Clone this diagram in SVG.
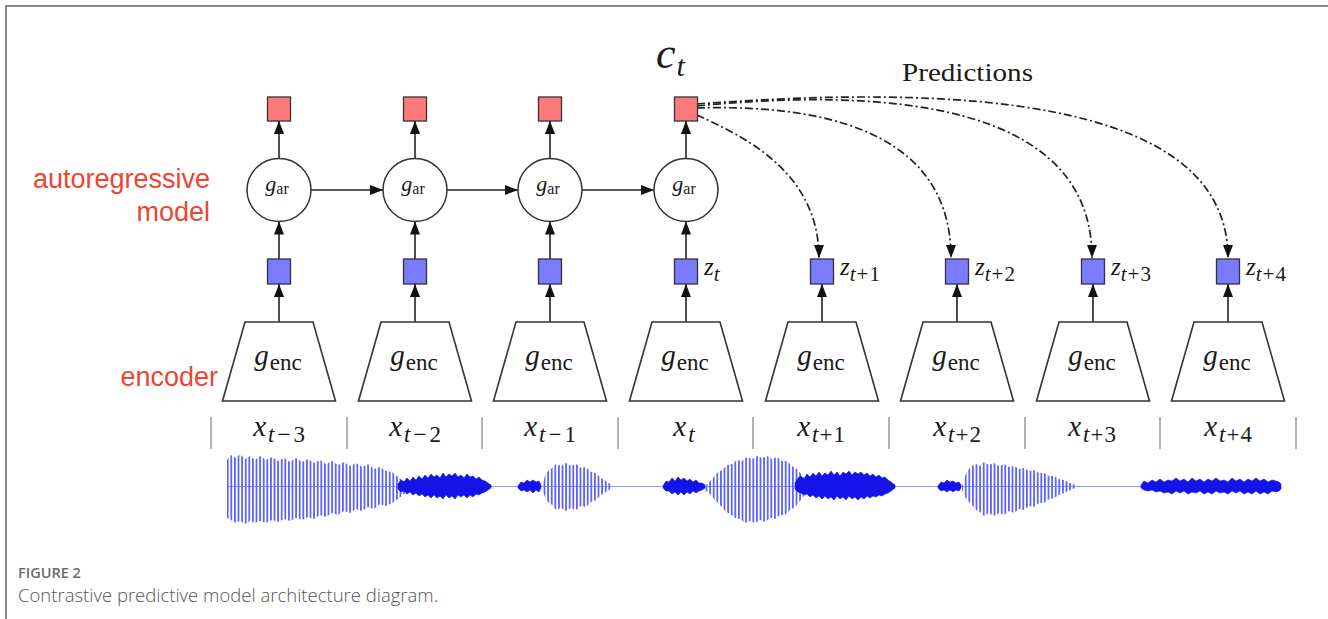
<svg xmlns="http://www.w3.org/2000/svg" width="1328" height="619" viewBox="0 0 1328 619">
<style>
.frame{fill:none;stroke:#8a8a8a;stroke-width:2}
.red{font-family:"Liberation Sans",Arial,sans-serif;font-size:27px;fill:#ee4433}
.m{font-family:"Liberation Serif","Times New Roman",serif;fill:#1a1a1a}
.it{font-style:italic}
.ctx{fill:#ff7b7b;stroke:#333;stroke-width:1.3}
.zsq{fill:#7b7bff;stroke:#333;stroke-width:1.3}
.ar{fill:#fff;stroke:#333;stroke-width:1.5}
.enc{fill:#fff;stroke:#333;stroke-width:1.6;stroke-linejoin:miter}
.arrow{fill:none;stroke:#222;stroke-width:1.6;marker-end:url(#ah)}
.pred{fill:none;stroke:#222;stroke-width:1.7;stroke-dasharray:8 3 2 3;marker-end:url(#ah)}
.tick{stroke:#9a9a9a;stroke-width:1.5}
.light{fill:url(#stripes)}
.dark{fill:#1414e8;stroke:#1414e8;stroke-width:0.6}
.cap1{font-family:"Open Sans","Liberation Sans",sans-serif;font-size:14.5px;font-weight:600;fill:#6b6b6b}
.cap2{font-family:"Open Sans","Liberation Sans",sans-serif;font-size:18.5px;font-weight:300;fill:#555}
</style>
<defs>
<marker id="ah" markerUnits="userSpaceOnUse" markerWidth="14" markerHeight="11" refX="13" refY="5" orient="auto">
<path d="M0,0 L13,5 L0,10 z" fill="#111"/>
</marker>
<pattern id="stripes" patternUnits="userSpaceOnUse" width="3.6" height="20">
<rect x="0" y="0" width="1.8" height="20" fill="#5d63ff"/>
</pattern>
</defs>

<rect width="1328" height="619" fill="#fff"/>
<path class="frame" d="M6,619 V6 H1328"/>

<g id="labels">
<text class="red" x="210" y="188" text-anchor="end">autoregressive</text>
<text class="red" x="210" y="221" text-anchor="end">model</text>
<text class="red" x="218" y="386" text-anchor="end">encoder</text>
</g>

<g id="ct-label">
<text class="m" x="656" y="68"><tspan class="it" font-size="44">c</tspan><tspan class="it" font-size="30" dy="8" dx="1">t</tspan></text>
</g>
<g id="predictions-label">
<text class="m" x="902" y="81" font-size="25" textLength="131" lengthAdjust="spacingAndGlyphs">Predictions</text>
</g>

<g id="connectors">
<line class="arrow" x1="279" y1="322" x2="279" y2="284"/>
<line class="arrow" x1="415" y1="322" x2="415" y2="284"/>
<line class="arrow" x1="550" y1="322" x2="550" y2="284"/>
<line class="arrow" x1="686" y1="322" x2="686" y2="284"/>
<line class="arrow" x1="822" y1="322" x2="822" y2="284"/>
<line class="arrow" x1="957" y1="322" x2="957" y2="284"/>
<line class="arrow" x1="1093" y1="322" x2="1093" y2="284"/>
<line class="arrow" x1="1228" y1="322" x2="1228" y2="284"/>
<line class="arrow" x1="279" y1="259" x2="279" y2="221.5"/>
<line class="arrow" x1="415" y1="259" x2="415" y2="221.5"/>
<line class="arrow" x1="550" y1="259" x2="550" y2="221.5"/>
<line class="arrow" x1="686" y1="259" x2="686" y2="221.5"/>
<line class="arrow" x1="279" y1="158.5" x2="279" y2="121"/>
<line class="arrow" x1="415" y1="158.5" x2="415" y2="121"/>
<line class="arrow" x1="550" y1="158.5" x2="550" y2="121"/>
<line class="arrow" x1="686" y1="158.5" x2="686" y2="121"/>
<line class="arrow" x1="311" y1="190" x2="383" y2="190"/>
<line class="arrow" x1="447" y1="190" x2="518" y2="190"/>
<line class="arrow" x1="582" y1="190" x2="654" y2="190"/>
<path class="pred" d="M697,115 C740,135 819,170 819,258"/>
<path class="pred" d="M697,108 C800,105 951,120 951,258"/>
<path class="pred" d="M697,106 C880,88 1092,100 1092,258"/>
<path class="pred" d="M697,104 C950,85 1228,95 1228,258"/>
</g>

<g id="context-1"><rect class="ctx" x="267.5" y="97" width="23" height="24"/></g>
<g id="context-2"><rect class="ctx" x="403.5" y="97" width="23" height="24"/></g>
<g id="context-3"><rect class="ctx" x="538.5" y="97" width="23" height="24"/></g>
<g id="context-4"><rect class="ctx" x="674.5" y="97" width="23" height="24"/></g>

<g id="gar-1"><ellipse class="ar" cx="279" cy="190" rx="32" ry="31.5"/><text class="m" x="277" y="191" text-anchor="middle"><tspan class="it" font-size="22">g</tspan><tspan font-size="16" dy="3">ar</tspan></text></g>
<g id="gar-2"><ellipse class="ar" cx="415" cy="190" rx="32" ry="31.5"/><text class="m" x="413" y="191" text-anchor="middle"><tspan class="it" font-size="22">g</tspan><tspan font-size="16" dy="3">ar</tspan></text></g>
<g id="gar-3"><ellipse class="ar" cx="550" cy="190" rx="32" ry="31.5"/><text class="m" x="548" y="191" text-anchor="middle"><tspan class="it" font-size="22">g</tspan><tspan font-size="16" dy="3">ar</tspan></text></g>
<g id="gar-4"><ellipse class="ar" cx="686" cy="190" rx="32" ry="31.5"/><text class="m" x="684" y="191" text-anchor="middle"><tspan class="it" font-size="22">g</tspan><tspan font-size="16" dy="3">ar</tspan></text></g>

<g id="z-1"><rect class="zsq" x="267.5" y="259" width="23" height="25"/></g>
<g id="z-2"><rect class="zsq" x="403.5" y="259" width="23" height="25"/></g>
<g id="z-3"><rect class="zsq" x="538.5" y="259" width="23" height="25"/></g>
<g id="z-4"><rect class="zsq" x="674.5" y="259" width="23" height="25"/><text class="m" x="704" y="275"><tspan class="it" font-size="25">z</tspan><tspan class="it" font-size="21" dy="6">t</tspan></text></g>
<g id="z-5"><rect class="zsq" x="810.5" y="259" width="23" height="25"/><text class="m" x="840" y="275"><tspan class="it" font-size="25">z</tspan><tspan class="it" font-size="21" dy="6">t</tspan><tspan font-size="21" dx="1">+</tspan><tspan font-size="21" dx="1">1</tspan></text></g>
<g id="z-6"><rect class="zsq" x="945.5" y="259" width="23" height="25"/><text class="m" x="975" y="275"><tspan class="it" font-size="25">z</tspan><tspan class="it" font-size="21" dy="6">t</tspan><tspan font-size="21" dx="1">+</tspan><tspan font-size="21" dx="1">2</tspan></text></g>
<g id="z-7"><rect class="zsq" x="1081.5" y="259" width="23" height="25"/><text class="m" x="1111" y="275"><tspan class="it" font-size="25">z</tspan><tspan class="it" font-size="21" dy="6">t</tspan><tspan font-size="21" dx="1">+</tspan><tspan font-size="21" dx="1">3</tspan></text></g>
<g id="z-8"><rect class="zsq" x="1216.5" y="259" width="23" height="25"/><text class="m" x="1246" y="275"><tspan class="it" font-size="25">z</tspan><tspan class="it" font-size="21" dy="6">t</tspan><tspan font-size="21" dx="1">+</tspan><tspan font-size="21" dx="1">4</tspan></text></g>

<g id="enc-1"><polygon class="enc" points="245,322 313,322 335.5,401 222.5,401"/><text class="m" x="278" y="365" text-anchor="middle"><tspan class="it" font-size="29">g</tspan><tspan font-size="23" dy="5" dx="1">enc</tspan></text></g>
<g id="enc-2"><polygon class="enc" points="381,322 449,322 471.5,401 358.5,401"/><text class="m" x="414" y="365" text-anchor="middle"><tspan class="it" font-size="29">g</tspan><tspan font-size="23" dy="5" dx="1">enc</tspan></text></g>
<g id="enc-3"><polygon class="enc" points="516,322 584,322 606.5,401 493.5,401"/><text class="m" x="549" y="365" text-anchor="middle"><tspan class="it" font-size="29">g</tspan><tspan font-size="23" dy="5" dx="1">enc</tspan></text></g>
<g id="enc-4"><polygon class="enc" points="652,322 720,322 742.5,401 629.5,401"/><text class="m" x="685" y="365" text-anchor="middle"><tspan class="it" font-size="29">g</tspan><tspan font-size="23" dy="5" dx="1">enc</tspan></text></g>
<g id="enc-5"><polygon class="enc" points="788,322 856,322 878.5,401 765.5,401"/><text class="m" x="821" y="365" text-anchor="middle"><tspan class="it" font-size="29">g</tspan><tspan font-size="23" dy="5" dx="1">enc</tspan></text></g>
<g id="enc-6"><polygon class="enc" points="923,322 991,322 1013.5,401 900.5,401"/><text class="m" x="956" y="365" text-anchor="middle"><tspan class="it" font-size="29">g</tspan><tspan font-size="23" dy="5" dx="1">enc</tspan></text></g>
<g id="enc-7"><polygon class="enc" points="1059,322 1127,322 1149.5,401 1036.5,401"/><text class="m" x="1092" y="365" text-anchor="middle"><tspan class="it" font-size="29">g</tspan><tspan font-size="23" dy="5" dx="1">enc</tspan></text></g>
<g id="enc-8"><polygon class="enc" points="1194,322 1262,322 1284.5,401 1171.5,401"/><text class="m" x="1227" y="365" text-anchor="middle"><tspan class="it" font-size="29">g</tspan><tspan font-size="23" dy="5" dx="1">enc</tspan></text></g>

<g id="segments">
<line class="tick" x1="211" y1="417" x2="211" y2="449"/>
<line class="tick" x1="347" y1="417" x2="347" y2="449"/>
<line class="tick" x1="482" y1="417" x2="482" y2="449"/>
<line class="tick" x1="618" y1="417" x2="618" y2="449"/>
<line class="tick" x1="753" y1="417" x2="753" y2="449"/>
<line class="tick" x1="889" y1="417" x2="889" y2="449"/>
<line class="tick" x1="1025" y1="417" x2="1025" y2="449"/>
<line class="tick" x1="1160" y1="417" x2="1160" y2="449"/>
<line class="tick" x1="1296" y1="417" x2="1296" y2="449"/>
<text class="m" x="279" y="436" text-anchor="middle"><tspan class="it" font-size="29">x</tspan><tspan class="it" font-size="23" dy="6" dx="2">t</tspan><tspan font-size="23" dx="3">−</tspan><tspan font-size="23" dx="3">3</tspan></text>
<text class="m" x="415" y="436" text-anchor="middle"><tspan class="it" font-size="29">x</tspan><tspan class="it" font-size="23" dy="6" dx="2">t</tspan><tspan font-size="23" dx="3">−</tspan><tspan font-size="23" dx="3">2</tspan></text>
<text class="m" x="550" y="436" text-anchor="middle"><tspan class="it" font-size="29">x</tspan><tspan class="it" font-size="23" dy="6" dx="2">t</tspan><tspan font-size="23" dx="3">−</tspan><tspan font-size="23" dx="3">1</tspan></text>
<text class="m" x="684" y="436" text-anchor="middle"><tspan class="it" font-size="29">x</tspan><tspan class="it" font-size="23" dy="6" dx="2">t</tspan></text>
<text class="m" x="821" y="436" text-anchor="middle"><tspan class="it" font-size="29">x</tspan><tspan class="it" font-size="23" dy="6" dx="2">t</tspan><tspan font-size="23" dx="1">+</tspan><tspan font-size="23" dx="1">1</tspan></text>
<text class="m" x="957" y="436" text-anchor="middle"><tspan class="it" font-size="29">x</tspan><tspan class="it" font-size="23" dy="6" dx="2">t</tspan><tspan font-size="23" dx="1">+</tspan><tspan font-size="23" dx="1">2</tspan></text>
<text class="m" x="1092" y="436" text-anchor="middle"><tspan class="it" font-size="29">x</tspan><tspan class="it" font-size="23" dy="6" dx="2">t</tspan><tspan font-size="23" dx="1">+</tspan><tspan font-size="23" dx="1">3</tspan></text>
<text class="m" x="1228" y="436" text-anchor="middle"><tspan class="it" font-size="29">x</tspan><tspan class="it" font-size="23" dy="6" dx="2">t</tspan><tspan font-size="23" dx="1">+</tspan><tspan font-size="23" dx="1">4</tspan></text>
</g>

<g id="waveform">
<line x1="227" y1="486.5" x2="1281" y2="486.5" stroke="#8f95ff" stroke-width="1"/>
<polygon class="light" points="227,460 231,455 236,458 240,454 245,459 250,456 255,460 260,456 266,460 272,457 278,461 284,458 290,462 296,458 302,462 308,459 314,463 320,460 326,464 332,461 338,465 344,462 350,466 356,463 362,467 368,464 374,469 380,467 386,471 392,472 398,477 404,481 409,485 409,489 404,494 398,499 392,503 386,506 380,504 374,509 368,507 362,511 356,509 350,513 344,511 338,515 332,513 326,517 320,515 314,519 308,517 302,520 296,518 290,521 284,519 278,522 272,520 266,523 260,521 255,523 250,521 245,524 240,521 236,523 231,520 227,518"/>
<polygon class="dark" points="398,484 401,480 404,482 407,478 410,481 413,477 416,480 419,476 422,479 425,475 428,478 431,474 434,477 437,475 440,478 443,473 446,477 449,474 452,476 455,473 458,477 461,475 464,478 467,474 470,477 473,476 476,479 479,477 482,480 485,481 488,483 491,485 491,488 488,490 485,492 482,493 479,495 476,494 473,497 470,495 467,498 464,495 461,497 458,495 455,499 452,496 449,498 446,495 443,499 440,496 437,498 434,495 431,498 428,495 425,497 422,494 419,496 416,493 413,495 410,492 407,494 404,491 401,492 398,489"/>
<polygon class="dark" points="518,486 521,482 524,483 527,480 530,482 533,480 536,482 539,481 541,485 541,488 539,492 536,490 533,493 530,490 527,492 524,490 521,491 518,488"/>
<polygon class="light" points="542,486 545,476 548,471 552,468 556,464 561,466 566,463 571,466 576,464 581,468 586,467 591,472 596,473 601,478 606,481 612,485 612,488 606,492 601,495 596,500 591,502 586,507 581,506 576,510 571,508 566,511 561,508 556,510 552,505 548,502 545,497 542,490"/>
<polygon class="dark" points="663,486 666,481 669,482 672,478 675,481 678,477 681,480 684,478 687,481 690,479 693,482 696,480 699,483 702,483 705,485 705,488 702,490 699,491 696,493 693,491 690,494 687,492 684,495 681,492 678,495 675,492 672,494 669,491 666,491 663,488"/>
<polygon class="light" points="705,486 709,482 713,478 717,473 722,470 727,465 732,464 737,460 742,461 747,457 752,459 757,456 762,458 767,456 772,459 777,457 782,461 787,461 792,466 797,469 802,475 806,481 808,485 808,489 804,496 800,501 795,507 790,510 785,515 780,515 775,519 770,518 765,522 760,520 755,523 750,521 745,523 740,519 735,518 730,514 725,511 720,505 715,500 710,494 705,490"/>
<polygon class="dark" points="795,483 798,478 801,476 804,479 807,474 810,477 813,473 816,476 819,472 822,476 825,473 828,475 831,471 834,475 837,472 840,476 843,472 846,474 849,471 852,475 855,472 858,474 861,472 864,475 867,473 870,476 873,474 876,477 879,475 882,478 885,477 888,480 891,482 895,485 895,488 891,491 888,493 885,494 882,496 879,495 876,497 873,496 870,498 867,496 864,499 861,497 858,500 855,497 852,499 849,496 846,500 843,497 840,499 837,496 834,500 831,497 828,499 825,496 822,499 819,496 816,498 813,495 810,497 807,494 804,495 801,493 798,492 795,489"/>
<polygon class="dark" points="938,486 941,482 944,483 947,480 950,482 953,481 956,483 959,482 961,485 961,488 959,491 956,490 953,492 950,490 947,492 944,490 941,491 938,488"/>
<polygon class="light" points="962,486 965,476 968,470 972,466 976,464 980,466 984,462 989,465 994,463 999,466 1004,464 1009,467 1014,466 1019,469 1024,468 1029,471 1034,470 1039,473 1044,473 1049,476 1054,476 1059,479 1064,480 1070,483 1076,485 1076,488 1070,490 1064,493 1059,495 1054,498 1049,499 1044,503 1039,503 1034,507 1029,506 1024,510 1019,509 1014,513 1009,511 1004,515 999,513 994,516 989,513 984,516 980,512 976,510 972,505 968,501 965,497 962,490"/>
<polygon class="dark" points="1141,485 1144,481 1148,483 1152,480 1156,482 1160,479 1164,482 1168,480 1172,481 1176,478 1180,481 1184,479 1188,482 1192,478 1196,481 1200,479 1204,482 1208,479 1212,481 1216,478 1220,481 1224,480 1228,482 1232,478 1236,481 1240,479 1244,482 1248,479 1252,481 1256,478 1260,481 1264,479 1268,482 1272,480 1276,481 1279,482 1281,484 1281,489 1279,491 1276,492 1272,491 1268,494 1264,492 1260,494 1256,491 1252,494 1248,492 1244,494 1240,491 1236,493 1232,491 1228,494 1224,492 1220,493 1216,491 1212,494 1208,492 1204,494 1200,491 1196,493 1192,492 1188,494 1184,491 1180,493 1176,491 1172,494 1168,492 1164,493 1160,491 1156,492 1152,490 1148,491 1144,490 1141,488"/>
</g>

<g id="caption">
<text class="cap1" x="18" y="578">FIGURE 2</text>
<text class="cap2" x="18" y="602">Contrastive predictive model architecture diagram.</text>
</g>
</svg>
